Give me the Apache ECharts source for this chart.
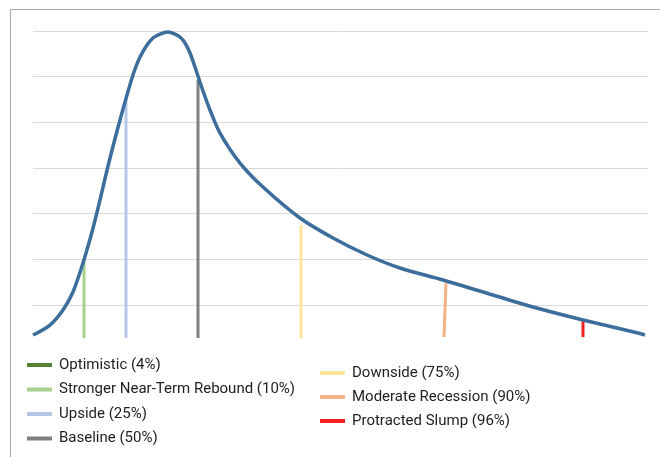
<!DOCTYPE html>
<html>
<head>
<meta charset="utf-8">
<script src="https://cdn.jsdelivr.net/npm/echarts@6/dist/echarts.min.js"></script>
<style>
html,body{margin:0;padding:0;background:#fff;}
#chart{width:660px;height:457px;}
</style>
</head>
<body>
<div id="chart"></div>
<script>
// Distribution curve (x: 0-100 arbitrary units, y: gridline units)
const curveX = [0, 2.76, 4.88, 6.50, 8.13, 9.59, 10.89, 12.20, 13.66, 15.28, 16.42, 17.40, 18.54, 19.51, 20.65, 21.95, 23.09, 23.90, 24.72, 25.53, 26.34, 26.83, 27.64, 28.78, 30.41, 33.66, 37.40, 43.41, 48.78, 54.31, 59.67, 66.67, 73.17, 81.30, 89.43, 98.37, 99.51];
const curveY = [0.343, 0.562, 0.891, 1.285, 1.920, 2.598, 3.299, 4.044, 4.810, 5.598, 6.102, 6.430, 6.693, 6.846, 6.934, 6.978, 6.934, 6.868, 6.737, 6.518, 6.211, 6.014, 5.686, 5.270, 4.766, 4.109, 3.584, 2.905, 2.467, 2.095, 1.810, 1.548, 1.285, 0.956, 0.672, 0.387, 0.343];

// Scenario markers
const scenarioNames = ['Optimistic (4%)', 'Stronger Near-Term Rebound (10%)', 'Upside (25%)', 'Baseline (50%)', 'Downside (75%)', 'Moderate Recession (90%)', 'Protracted Slump (96%)'];
const scenarioColors = ['#548235', '#a9d18e', '#b4c7e7', '#808080', '#ffe699', '#f4b183', '#f42020'];
const scenarioXBottom = [null, 8.29, 15.12, 26.83, 43.58, 66.83, 89.43];
const scenarioXTop = [null, 8.29, 15.12, 26.83, 43.58, 67.15, 89.43];
const scenarioYBottom = [null, 0.28, 0.28, 0.28, 0.28, 0.30, 0.30];
const scenarioYTop = [null, 2.01, 5.53, 5.93, 2.75, 1.48, 0.65];

const gridColors = ['rgba(0,0,0,0)', '#d9d9d9', '#d9d9d9', '#d9d9d9', '#d9d9d9', '#d9d9d9', '#d9d9d9', '#d9d9d9'];

const chart = echarts.init(document.getElementById('chart'), null, {renderer: 'canvas'});

const series = [];
scenarioNames.forEach((name, i) => {
  const data = scenarioXBottom[i] === null ? [] :
    [[scenarioXBottom[i], scenarioYBottom[i]], [scenarioXTop[i], scenarioYTop[i]]];
  series.push({
    name: name,
    type: 'line',
    data: data,
    symbol: 'none',
    lineStyle: {color: scenarioColors[i], width: 3},
    itemStyle: {color: scenarioColors[i]},
    z: 2
  });
});
series.push({
  name: 'curve',
  type: 'line',
  data: curveX.map((x, i) => [x, curveY[i]]),
  smooth: 0.3,
  symbol: 'none',
  lineStyle: {color: '#3b6e9c', width: 3.5, cap: 'butt', join: 'round'},
  z: 3
});

const legendText = {fontFamily: 'Roboto', fontSize: 15, color: '#1e1e1e', lineHeight: 20, padding: [0, 0, 0, 2]};

chart.setOption({
  animation: false,
  backgroundColor: '#fff',
  graphic: [{
    type: 'rect',
    shape: {x: 10.5, y: 9.5, width: 700, height: 500},
    style: {fill: 'none', stroke: '#a6a6a6', lineWidth: 1},
    silent: true
  }],
  grid: {left: 33, right: 12, top: 31, bottom: 106.3},
  xAxis: {
    type: 'value', min: 0, max: 100,
    show: false
  },
  yAxis: {
    type: 'value', min: 0, max: 7, interval: 1,
    axisLine: {show: false}, axisTick: {show: false}, axisLabel: {show: false},
    splitLine: {show: true, lineStyle: {color: gridColors, width: 1}}
  },
  legend: [{
    data: scenarioNames.slice(0, 4),
    orient: 'vertical',
    left: 27, top: 355, padding: 0,
    icon: 'rect', itemWidth: 25, itemHeight: 4, itemGap: 4.5,
    textStyle: legendText
  }, {
    data: scenarioNames.slice(4),
    orient: 'vertical',
    left: 320, top: 363, padding: 0,
    icon: 'rect', itemWidth: 25, itemHeight: 4, itemGap: 4,
    textStyle: legendText
  }],
  series: series
});
</script>
</body>
</html>
